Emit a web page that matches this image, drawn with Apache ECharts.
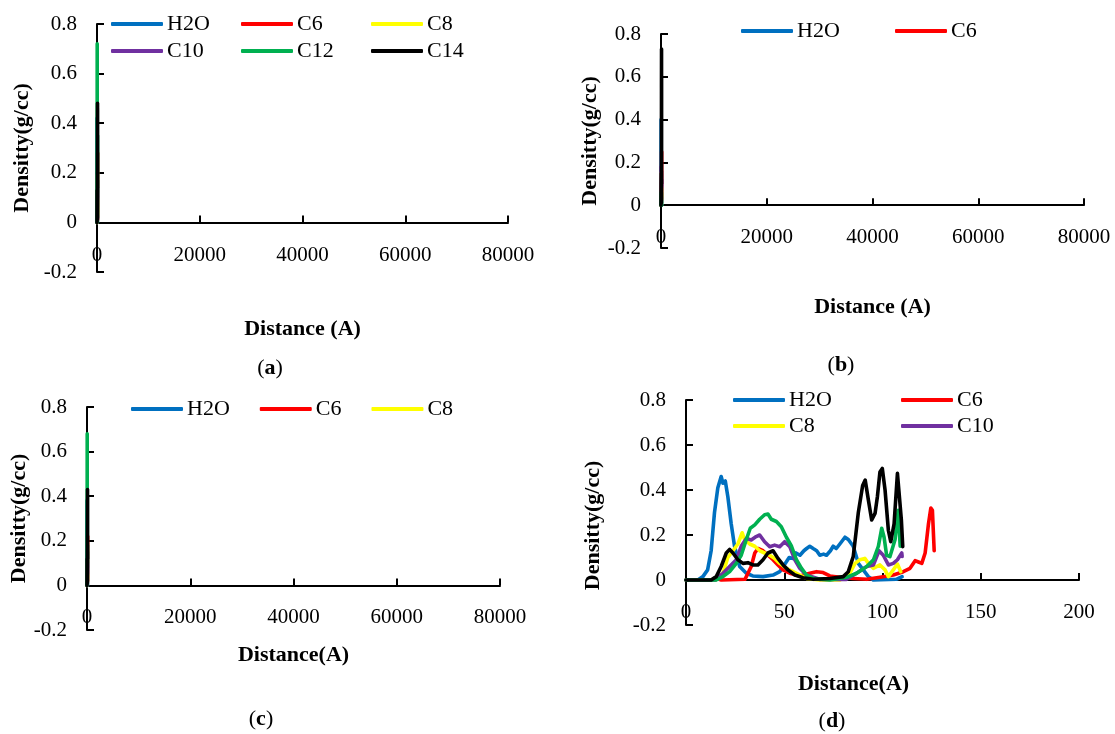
<!DOCTYPE html>
<html>
<head>
<meta charset="utf-8">
<script src="https://cdn.jsdelivr.net/npm/echarts@6/dist/echarts.min.js"></script>
<style>
html, body { margin: 0; padding: 0; background: #fff; }
#main { width: 1115px; height: 734px; }
</style>
</head>
<body>
<div id="main"></div>
<script>
var names = ['H2O', 'C6', 'C8', 'C10', 'C12', 'C14'];
var colors = ['#0070C0', '#FF0000', '#FFFF00', '#7030A0', '#00B050', '#000000'];

// x ticks
var xTicksWide = [0, 20000, 40000, 60000, 80000];
var xTicksZoom = [0, 50, 100, 150, 200];
var yTicks = [-0.2, 0, 0.2, 0.4, 0.6, 0.8];

// panel (a) - profiles squeezed at x ~ 0 on a 0..80000 axis
var aH2O = [[0, 0], [12, 0.02], [18, 0.42], [25, 0.08], [45, 0.03], [62, 0.13], [80, 0.17], [92, 0.02], [110, 0]];
var aC6 = [[0, 0], [30, 0], [36, 0.12], [50, 0.04], [100, 0.01], [118, 0.07], [124, 0.28], [126, 0.12]];
var aC8 = [[0, 0], [15, 0], [28, 0.19], [45, 0.09], [60, 0], [90, 0.09], [100, 0.03], [108, 0.06], [110, 0.03]];
var aC10 = [[0, 0], [15, 0], [35, 0.2], [52, 0.16], [62, 0.01], [85, 0.02], [98, 0.14], [110, 0.1]];
var aC12 = [[0, 0], [15, 0], [32, 0.3], [40, 0.72], [48, 0.45], [60, 0.03], [85, 0.02], [100, 0.2], [108, 0.35], [110, 0.12]];
var aC14 = [[0, 0], [14, 0], [22, 0.13], [35, 0.07], [44, 0.12], [58, 0.01], [80, 0.02], [90, 0.4], [100, 0.48], [104, 0.17], [108, 0.46], [110, 0.14]];

// panel (b)
var bH2O = [[0, 0], [10, 0], [18, 0.4], [25, 0.06], [50, 0.05], [80, 0.16], [95, 0], [110, 0]];
var bC6 = [[0, 0], [30, 0], [36, 0.1], [60, 0.02], [110, 0.03], [124, 0.25], [126, 0.1]];
var bC8 = [[0, 0], [20, 0], [30, 0.15], [50, 0.05], [70, 0], [95, 0.08], [110, 0.04]];
var bC10 = [[0, 0], [20, 0], [38, 0.18], [55, 0.1], [70, 0], [100, 0.12], [110, 0.09]];
var bC12 = [[0, 0], [20, 0], [40, 0.05], [60, 0.06], [90, 0.02], [110, 0]];
var bC14 = [[0, 0], [20, 0.1], [45, 0.15], [70, 0.01], [90, 0.55], [100, 0.73], [105, 0.2], [110, 0.6], [112, 0.1]];

// panel (c)
var cH2O = [[0, 0], [10, 0], [18, 0.38], [26, 0.05], [60, 0.12], [80, 0.15], [95, 0], [110, 0]];
var cC6 = [[0, 0], [30, 0], [36, 0.1], [55, 0.03], [110, 0.02], [124, 0.22], [126, 0.1]];
var cC8 = [[0, 0], [15, 0], [28, 0.1], [45, 0.06], [60, 0], [90, 0.05], [110, 0.03]];
var cC10 = [[0, 0], [15, 0], [35, 0.16], [52, 0.12], [65, 0], [98, 0.1], [110, 0.08]];
var cC12 = [[0, 0], [15, 0], [32, 0.3], [40, 0.68], [48, 0.4], [60, 0.02], [100, 0.18], [110, 0.1]];
var cC14 = [[0, 0], [14, 0], [22, 0.12], [44, 0.1], [60, 0.01], [90, 0.35], [100, 0.43], [104, 0.15], [108, 0.4], [110, 0.12]];

// panel (d) - distance (A), density (g/cc)
var dH2O = [[0, 0], [6, 0], [8.6, 0.015], [11, 0.045], [12.8, 0.13], [14.5, 0.3], [16.2, 0.41], [17.9, 0.46], [18.8, 0.43], [20, 0.44], [21.3, 0.37], [23, 0.25], [24.7, 0.15], [27.3, 0.06], [30.7, 0.03], [34, 0.018], [39.2, 0.015], [44.3, 0.022], [47.7, 0.037], [51, 0.08], [52.5, 0.1], [54.5, 0.096], [56, 0.12], [58, 0.11], [60, 0.13], [61.4, 0.14], [63, 0.15], [64.7, 0.14], [66.5, 0.13], [68.1, 0.11], [70, 0.115], [71.5, 0.11], [73.5, 0.13], [74.9, 0.15], [76.5, 0.14], [78.3, 0.16], [80.9, 0.19], [82.6, 0.18], [85.1, 0.15], [87.7, 0.074], [90.2, 0.045], [92.8, 0.015], [95.3, 0], [107, 0.003], [110, 0.015]];
var dC6 = [[0, 0], [13, 0], [15, 0.008], [18, 0], [30, 0.003], [30.7, 0.015], [33.2, 0.06], [35, 0.12], [36.6, 0.14], [39.2, 0.13], [41.7, 0.11], [44.3, 0.09], [46.8, 0.067], [49.4, 0.045], [52.8, 0.03], [57.9, 0.018], [63, 0.03], [66.4, 0.037], [69.8, 0.033], [73.2, 0.018], [78.3, 0.012], [85.1, 0.007], [92, 0.003], [98.7, 0.012], [105.5, 0.022], [110.6, 0.037], [114, 0.052], [116.6, 0.086], [118.3, 0.08], [120, 0.074], [121.7, 0.12], [123.4, 0.25], [124.6, 0.32], [125.4, 0.31], [126.3, 0.13]];
var dC8 = [[0, 0], [15, 0], [18.8, 0.03], [21.3, 0.1], [23.9, 0.13], [26.4, 0.16], [28.6, 0.21], [29.8, 0.18], [32.4, 0.16], [35, 0.15], [37.5, 0.13], [40, 0.12], [42.6, 0.11], [45.1, 0.096], [47.7, 0.074], [51.1, 0.052], [54.5, 0.037], [57.9, 0.022], [61.3, 0.007], [68, 0], [78.3, 0], [83.4, 0.03], [86, 0.074], [88.5, 0.09], [91, 0.096], [92.8, 0.074], [95.3, 0.052], [98.7, 0.067], [101.3, 0.045], [103, 0.015], [105.5, 0.045], [107.6, 0.071], [109.3, 0.037]];
var dC10 = [[0, 0], [15, 0], [18.8, 0.03], [22.2, 0.06], [25.6, 0.09], [28.1, 0.15], [30.7, 0.185], [33.2, 0.178], [35.7, 0.193], [37.5, 0.2], [40, 0.17], [42.6, 0.148], [45.1, 0.155], [47.7, 0.148], [50.2, 0.17], [52.8, 0.148], [55.4, 0.09], [57.9, 0.052], [61.3, 0.022], [68, 0.003], [81.7, 0.003], [86.8, 0.03], [92, 0.06], [95.4, 0.067], [98.2, 0.13], [100.4, 0.11], [103, 0.067], [105.5, 0.074], [107.6, 0.09], [109.8, 0.12], [110, 0.105]];
var dC12 = [[0, 0], [15.4, 0], [18.8, 0.015], [22.2, 0.037], [25.6, 0.074], [28.1, 0.11], [30.7, 0.18], [32.7, 0.23], [35, 0.245], [37.5, 0.27], [40, 0.29], [41.7, 0.293], [43.4, 0.27], [46, 0.26], [48.5, 0.237], [51.1, 0.19], [53.7, 0.15], [56.2, 0.09], [58.8, 0.052], [61.3, 0.022], [64.7, 0.007], [73.2, 0], [81.7, 0.012], [86.8, 0.03], [92, 0.06], [95.4, 0.09], [97.9, 0.15], [99.6, 0.23], [100.8, 0.19], [102.1, 0.11], [103.8, 0.104], [106.4, 0.18], [108, 0.31], [109, 0.15]];
var dC14 = [[0, 0], [12.8, 0], [15.4, 0.015], [17.9, 0.06], [20.5, 0.12], [22.2, 0.136], [23.9, 0.12], [26.4, 0.09], [29, 0.074], [31.5, 0.077], [34.1, 0.067], [36.6, 0.067], [39.2, 0.09], [41.7, 0.12], [44.3, 0.13], [46.8, 0.096], [49.4, 0.067], [51.9, 0.045], [55.4, 0.022], [59.6, 0.01], [64.7, 0.003], [73.2, 0.007], [80, 0.015], [82.6, 0.037], [85.1, 0.104], [87.7, 0.3], [89.9, 0.42], [91.2, 0.444], [92.8, 0.356], [94.5, 0.267], [96.2, 0.296], [97.4, 0.37], [98.7, 0.48], [99.9, 0.496], [101.3, 0.4], [103, 0.22], [104.2, 0.17], [105.9, 0.25], [107.6, 0.474], [108.6, 0.48], [109.6, 0.267], [110.3, 0.148]];

var panelData = [
    [aH2O, aC6, aC8, aC10, aC12, aC14],
    [bH2O, bC6, bC8, bC10, bC12, bC14],
    [cH2O, cC6, cC8, cC10, cC12, cC14],
    [dH2O, dC6, dC8, dC10, dC12, dC14]
];

var FONT = 'Liberation Serif';

// labels/names are measured from the grid bottom (not the zero line)
var panels = [
    {grid: {left: 97, top: 24, width: 411, height: 248}, ticks: xTicksWide, title: 'Distance (A)',
        labelMargin: -27, nameGap: 46, namePad: [0, 0, 0, 0], yGap: 64, yPad: [0, 0, 0, 0]},
    {grid: {left: 661, top: 34, width: 423, height: 214}, ticks: xTicksWide, title: 'Distance (A)',
        labelMargin: -21, nameGap: 48, namePad: [0, 0, 0, 0], yGap: 60, yPad: [0, 0, 0, 0]},
    {grid: {left: 87, top: 407, width: 413, height: 223}, ticks: xTicksWide, title: 'Distance(A)',
        labelMargin: -23, nameGap: 14, namePad: [0, 0, 0, 0], yGap: 54, yPad: [0, 0, 0, 0]},
    {grid: {left: 686, top: 400, width: 393, height: 225}, ticks: xTicksZoom, title: 'Distance(A)',
        labelMargin: -23, nameGap: 48, namePad: [0, 58, 0, 0], yGap: 82, yPad: [0, 26, 0, 0]}
];

// legend rows: which names, where (w = fixed text width, null = natural)
var legendRows = [
    {items: ['H2O', 'C6', 'C8'], left: 111, top: 13, w: 62, gap: 12},
    {items: ['C10', 'C12', 'C14'], left: 111, top: 40, w: 62, gap: 12},
    {items: ['H2O', 'C6'], left: 741, top: 20, w: 60, gap: 38},
    {items: ['H2O', 'C6', 'C8'], left: 131, top: 398, w: null, gap: 30},
    {items: ['H2O', 'C6'], left: 733, top: 389, w: 70, gap: 42},
    {items: ['C8', 'C10'], left: 733, top: 415, w: 70, gap: 42}
];

var captions = [
    {t: 'a', x: 270, y: 368},
    {t: 'b', x: 841, y: 365},
    {t: 'c', x: 261, y: 719},
    {t: 'd', x: 832, y: 721}
];

var axisLineStyle = {color: '#000', width: 2};

var grid = [], xAxis = [], yAxis = [], series = [];
panels.forEach(function (p, i) {
    var g = p.grid;
    grid.push({left: g.left, top: g.top, width: g.width, height: g.height, containLabel: false, outerBoundsMode: 'none'});
    var t = p.ticks;
    xAxis.push({
        gridIndex: i, type: 'value', min: t[0], max: t[t.length - 1], interval: t[1] - t[0],
        name: p.title, nameLocation: 'middle', nameGap: p.nameGap,
        nameTextStyle: {fontFamily: FONT, fontSize: 22, fontWeight: 'bold', color: '#000', padding: p.namePad},
        axisLine: {onZero: true, lineStyle: axisLineStyle},
        axisTick: {inside: true, length: 7, lineStyle: axisLineStyle},
        axisLabel: {fontFamily: FONT, fontSize: 21, color: '#000', margin: p.labelMargin,
            showMinLabel: true, showMaxLabel: true,
            formatter: function (v) { return String(v); }},
        splitLine: {show: false}
    });
    yAxis.push({
        gridIndex: i, type: 'value', min: yTicks[0], max: yTicks[yTicks.length - 1], interval: 0.2,
        name: 'Densitty(g/cc)', nameLocation: 'middle', nameRotate: 90, nameGap: p.yGap,
        nameTextStyle: {fontFamily: FONT, fontSize: 22, fontWeight: 'bold', color: '#000', padding: p.yPad},
        axisLine: {show: true, lineStyle: axisLineStyle},
        axisTick: {show: true, inside: true, length: 7, lineStyle: axisLineStyle},
        axisLabel: {fontFamily: FONT, fontSize: 21, color: '#000', margin: 20,
            formatter: function (v) { return String(Math.round(v * 10) / 10); }},
        splitLine: {show: false}
    });
    panelData[i].forEach(function (arr, k) {
        series.push({
            name: names[k], type: 'line', xAxisIndex: i, yAxisIndex: i,
            data: arr, symbol: 'none', showSymbol: false, smooth: false,
            lineStyle: {width: 3.6, color: colors[k], join: 'round', cap: 'round'},
            itemStyle: {color: colors[k]}
        });
    });
});

var legend = legendRows.map(function (r) {
    var ts = {fontFamily: FONT, fontSize: 22, color: '#000', lineHeight: 22, padding: [0, 0, 0, -1]};
    if (r.w) ts.width = r.w;
    return {
        data: r.items, left: r.left, top: r.top, orient: 'horizontal',
        icon: 'roundRect', itemWidth: 52, itemHeight: 4, itemGap: r.gap, padding: 0,
        selectedMode: false,
        textStyle: ts
    };
});

var graphic = captions.map(function (c) {
    return {
        type: 'text', x: c.x, y: c.y,
        style: {
            text: '(' + '{b|' + c.t + '}' + ')',
            fontFamily: FONT, fontSize: 22, fill: '#000',
            align: 'center', verticalAlign: 'middle',
            rich: {b: {fontFamily: FONT, fontSize: 22, fontWeight: 'bold', fill: '#000'}}
        }
    };
});

var chart = echarts.init(document.getElementById('main'));
chart.setOption({
    animation: false,
    backgroundColor: '#fff',
    grid: grid,
    xAxis: xAxis,
    yAxis: yAxis,
    legend: legend,
    graphic: graphic,
    series: series
});
</script>
</body>
</html>
